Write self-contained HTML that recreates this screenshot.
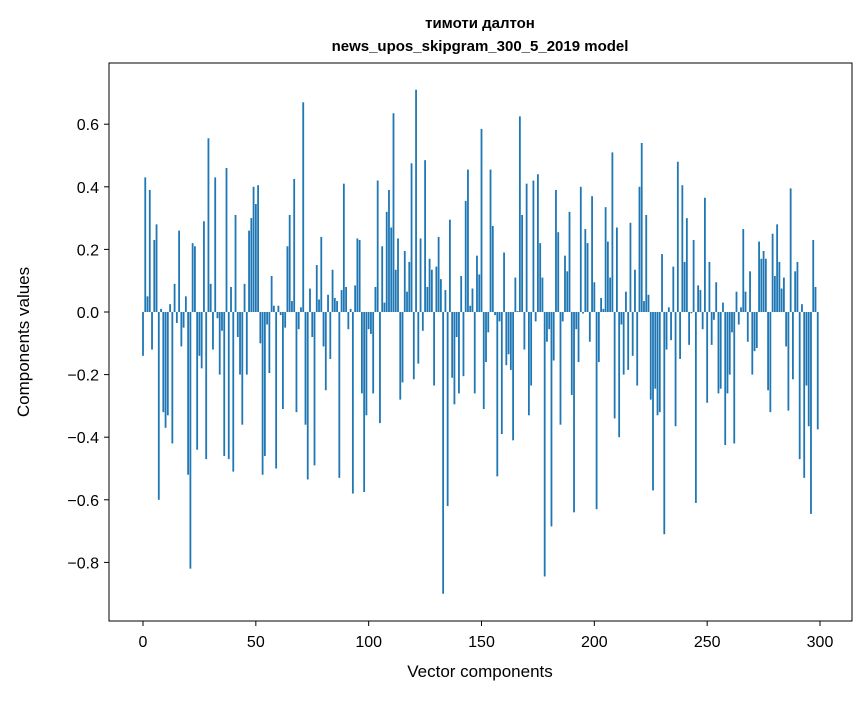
<!DOCTYPE html>
<html><head><meta charset="utf-8"><style>
body{margin:0;background:#fff;}
svg text{font-family:"Liberation Sans","DejaVu Sans",sans-serif;fill:#000;}
</style></head><body>
<svg id="chart" width="867" height="696" xmlns="http://www.w3.org/2000/svg">
<rect x="0" y="0" width="867" height="696" fill="#fff"/>
<text x="480" y="28" text-anchor="middle" font-size="15" font-weight="bold">тимоти далтон</text>
<text x="480" y="51" text-anchor="middle" font-size="15" font-weight="bold">news_upos_skipgram_300_5_2019 model</text>
<g id="bars"></g>
<g id="yticks"></g>
<g id="xticks"></g>
<rect x="109" y="63" width="743" height="558" fill="none" stroke="#000" stroke-width="1"/>
<text x="480" y="677" text-anchor="middle" font-size="17">Vector components</text>
<text transform="translate(29,342) rotate(-90)" text-anchor="middle" font-size="17">Components values</text>
</svg>
<script>
const values = [
-0.14,0.43,0.05,0.39,-0.12,0.23,0.28,-0.60,0.01,-0.32,
-0.37,-0.33,0.025,-0.42,0.09,-0.035,0.26,-0.11,-0.05,0.05,
-0.52,-0.82,0.22,0.21,-0.44,-0.14,-0.18,0.29,-0.47,0.555,
0.09,-0.12,0.43,-0.02,-0.20,-0.06,-0.46,0.46,-0.47,0.08,
-0.51,0.31,-0.08,-0.20,-0.36,0.09,-0.20,0.26,0.30,0.40,
0.345,0.405,-0.10,-0.52,-0.46,-0.04,-0.195,0.115,0.02,-0.50,
0.02,-0.01,-0.31,-0.05,0.21,0.31,0.035,0.425,-0.32,-0.055,
0.015,0.67,-0.36,-0.535,0.075,-0.08,-0.49,0.15,0.04,0.24,
-0.11,-0.25,0.055,-0.15,0.135,0.045,0.035,-0.53,0.07,0.41,
0.08,-0.055,0.01,-0.58,0.085,0.235,0.23,-0.26,-0.575,-0.33,
-0.055,-0.07,-0.26,0.08,0.42,-0.355,0.21,0.03,0.32,0.39,
0.27,0.635,0.135,0.235,-0.28,-0.225,0.195,0.065,0.16,0.475,
-0.215,0.71,-0.165,0.235,-0.06,0.485,0.08,0.17,0.135,-0.235,
0.145,0.24,0.105,-0.90,0.07,-0.62,0.295,-0.21,-0.295,-0.08,
-0.26,0.115,-0.205,0.355,0.455,0.02,0.075,-0.26,0.18,0.12,
0.585,-0.31,-0.16,-0.065,0.455,0.275,-0.01,-0.525,-0.03,-0.39,
0.19,-0.17,-0.135,-0.185,-0.41,0.11,0.003,0.625,0.31,-0.12,
0.41,-0.33,-0.235,0.42,-0.03,0.44,0.22,0.11,-0.845,-0.095,
-0.055,-0.685,-0.155,0.39,0.255,-0.36,-0.03,0.18,0.13,0.32,
-0.265,-0.64,-0.055,-0.16,0.40,-0.005,0.265,0.22,-0.095,0.37,
0.095,-0.63,-0.16,0.045,0.01,0.335,0.225,0.11,0.51,-0.34,
0.27,-0.40,-0.04,-0.20,0.065,-0.185,0.285,-0.14,0.135,-0.235,
0.40,0.54,0.035,0.31,0.055,-0.28,-0.57,-0.245,-0.33,-0.32,
0.185,-0.71,-0.12,0.015,-0.09,0.145,-0.365,0.48,-0.15,0.405,
0.16,0.30,-0.105,-0.004,0.23,-0.61,0.085,0.07,-0.055,0.365,
-0.29,0.16,-0.105,-0.025,0.095,-0.26,-0.245,0.03,-0.425,-0.26,
-0.20,-0.065,-0.42,0.065,-0.04,0.015,0.265,0.065,-0.095,0.13,
-0.20,-0.125,-0.115,0.225,0.17,0.195,0.17,-0.25,-0.32,0.25,
0.115,0.28,0.16,0.075,0.11,-0.11,-0.315,0.395,-0.215,0.13,
0.16,-0.47,0.025,-0.53,-0.235,-0.365,-0.645,0.23,0.08,-0.375
];
const yTicks = [0.6,0.4,0.2,0.0,-0.2,-0.4,-0.6,-0.8];
const yTickLabels = ["0.6","0.4","0.2","0.0","\u22120.2","\u22120.4","\u22120.6","\u22120.8"];
const xTicks = [0,50,100,150,200,250,300];

const NS="http://www.w3.org/2000/svg";
function xScale(v){return 143+v*(677/300);}
function yScale(v){return 312-v*313;}
const bars=document.getElementById('bars');
const bw=0.8*(677/300);
values.forEach((v,i)=>{
  const r=document.createElementNS(NS,'rect');
  const y0=yScale(0), y1=yScale(v);
  r.setAttribute('x',xScale(i)-bw/2);
  r.setAttribute('y',Math.min(y0,y1));
  r.setAttribute('width',bw);
  r.setAttribute('height',Math.abs(y1-y0));
  r.setAttribute('fill','#1f77b4');
  
  
  bars.appendChild(r);
});
const yg=document.getElementById('yticks');
yTicks.forEach((t,i)=>{
  const y=yScale(t);
  const l=document.createElementNS(NS,'line');
  l.setAttribute('x1',104);l.setAttribute('x2',109);l.setAttribute('y1',y);l.setAttribute('y2',y);
  l.setAttribute('stroke','#000');
  
  
  yg.appendChild(l);
  const tx=document.createElementNS(NS,'text');
  tx.setAttribute('x',99);tx.setAttribute('y',y+6);tx.setAttribute('text-anchor','end');tx.setAttribute('font-size','16');
  tx.textContent=yTickLabels[i];
  
  
  yg.appendChild(tx);
});
const xg=document.getElementById('xticks');
xTicks.forEach(t=>{
  const x=xScale(t);
  const l=document.createElementNS(NS,'line');
  l.setAttribute('x1',x);l.setAttribute('x2',x);l.setAttribute('y1',621);l.setAttribute('y2',626);
  l.setAttribute('stroke','#000');
  
  
  xg.appendChild(l);
  const tx=document.createElementNS(NS,'text');
  tx.setAttribute('x',x);tx.setAttribute('y',647);tx.setAttribute('text-anchor','middle');tx.setAttribute('font-size','16');
  tx.textContent=String(t);
  
  
  xg.appendChild(tx);
});
</script>
</body></html>
